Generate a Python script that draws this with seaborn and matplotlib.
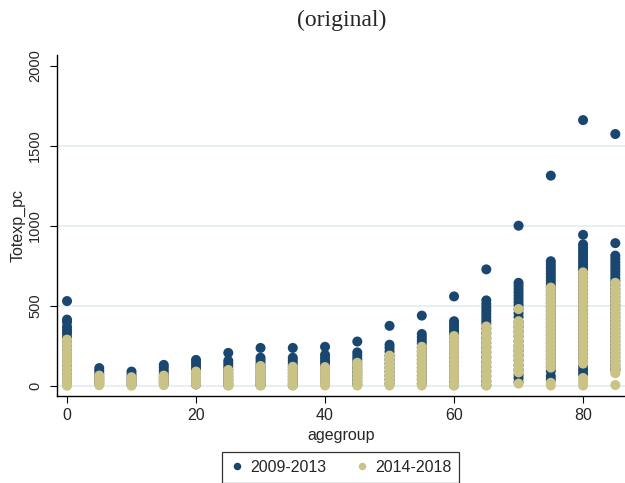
import numpy as np
import pandas as pd
import matplotlib
matplotlib.use('Agg')
import matplotlib.pyplot as plt
import seaborn as sns

# age groups on the x axis
agegroups = [0, 5, 10, 15, 20, 25, 30, 35, 40, 45, 50, 55, 60, 65, 70, 75, 80, 85]

# Totexp_pc values, one list per age group
totexp_2009_2013 = [
    [531, 415, 400, 370, 350, 330, 305, 280, 250, 220, 190, 160, 130, 100, 70, 40, 10],
    [112, 95, 75, 55, 35, 15],
    [90, 70, 50, 30, 10],
    [132, 115, 95, 75, 55, 35, 15],
    [163, 145, 125, 105, 85, 65, 45, 25, 10],
    [207, 158, 140, 120, 100, 80, 60, 40, 20, 5],
    [238, 177, 160, 140, 120, 100, 80, 60, 40, 20, 5],
    [238, 177, 160, 140, 120, 100, 80, 60, 40, 20, 5],
    [245, 195, 175, 155, 135, 115, 95, 75, 55, 35, 15],
    [278, 210, 190, 170, 150, 130, 110, 90, 70, 50, 30, 10],
    [376, 258, 238, 215, 190, 165, 140, 115, 90, 65, 40, 15],
    [440, 325, 305, 285, 265, 240, 215, 190, 165, 140, 115, 90, 65, 40, 15],
    [560, 405, 385, 365, 345, 325, 300, 270, 240, 210, 180, 150, 120, 90, 60, 30, 5],
    [729, 535, 512, 490, 470, 450, 430, 410, 390, 360, 330, 300, 270, 240, 210, 180,
     150, 120, 90, 60, 30, 5],
    [1002, 645, 625, 605, 585, 565, 545, 525, 505, 480, 455, 430, 400, 370, 340, 310,
     280, 250, 220, 190, 160, 130, 100, 70, 50, 25],
    [1315, 780, 760, 740, 720, 700, 680, 660, 640, 620, 595, 570, 545, 520, 495, 470,
     445, 420, 395, 370, 345, 320, 295, 270, 245, 220, 195, 170, 145, 120, 95, 62, 40],
    [1662, 945, 885, 865, 845, 825, 805, 785, 765, 745, 725, 700, 675, 650, 625, 600,
     575, 550, 525, 500, 475, 450, 425, 400, 375, 350, 325, 300, 275, 250, 225, 200,
     175, 150, 125, 100, 75],
    [1575, 893, 815, 795, 775, 755, 735, 715, 695, 675, 655, 630, 605, 580, 555, 530,
     505, 480, 455, 430, 405, 380, 355, 330, 305, 280, 255, 230, 205, 180, 155, 130,
     110, 100],
]

totexp_2014_2018 = [
    [290, 265, 240, 215, 190, 165, 140, 115, 90, 65, 40, 15, 2],
    [65, 45, 25, 5],
    [55, 35, 15, 2],
    [65, 45, 25, 5],
    [90, 70, 50, 30, 10],
    [100, 80, 60, 40, 20, 3],
    [125, 105, 85, 60, 40, 20, 3],
    [120, 100, 80, 60, 40, 20, 3],
    [118, 98, 78, 58, 38, 18, 3],
    [145, 125, 100, 75, 50, 25, 3],
    [190, 170, 145, 120, 95, 70, 45, 20, 3],
    [245, 220, 195, 170, 145, 120, 95, 70, 45, 20, 3],
    [312, 290, 265, 240, 215, 190, 165, 140, 115, 90, 65, 40, 15, 3],
    [372, 345, 320, 295, 270, 245, 220, 195, 170, 145, 120, 95, 70, 45, 20, 3],
    [481, 405, 380, 355, 330, 305, 280, 255, 230, 205, 180, 155, 130, 105, 85, 15],
    [615, 590, 565, 540, 515, 490, 465, 440, 415, 390, 365, 340, 315, 290, 265, 240,
     215, 190, 165, 140, 115, 20, 3],
    [710, 685, 660, 635, 610, 585, 560, 535, 510, 485, 460, 435, 410, 385, 360, 335,
     310, 285, 260, 235, 210, 185, 160, 140, 50, 25, 3],
    [645, 620, 595, 570, 545, 520, 495, 470, 445, 420, 395, 370, 345, 320, 295, 270,
     245, 220, 195, 170, 145, 120, 100, 80, 6],
]

periods = ['2009-2013', '2014-2018']
period_colors = {'2009-2013': '#1a476f', '2014-2018': '#cbc386'}

x_ticks = [0, 20, 40, 60, 80]
y_ticks = [0, 500, 1000, 1500, 2000]


rows = []
for period, series in zip(periods, [totexp_2009_2013, totexp_2014_2018]):
    for age, vals in zip(agegroups, series):
        for v in vals:
            rows.append({'agegroup': age, 'Totexp_pc': v, 'period': period})
plot_df = pd.DataFrame(rows)

sns.set_theme(style='white')
plt.rcParams['font.family'] = ['Liberation Sans', 'DejaVu Sans']

fig = plt.figure(figsize=(6.25, 4.83), dpi=100)
ax = fig.add_axes([56.7 / 625, 1 - 396 / 483, 1 - 56.7 / 625, (396 - 55) / 483])

# light horizontal grid like stata
for yt in y_ticks[:-1]:
    ax.axhline(yt, color='#e6eef1', lw=1.3, zorder=0)

sns.scatterplot(data=plot_df, x='agegroup', y='Totexp_pc', hue='period',
                hue_order=periods, palette=period_colors, s=52, linewidth=0,
                alpha=1, ax=ax, zorder=3)

ax.set_xlim(-1.6, 86.5)
ax.set_ylim(-62.5, 2069)
ax.set_xticks(x_ticks)
ax.set_yticks(y_ticks)
ax.tick_params(axis='both', direction='out', length=5, width=0.8, color='black',
               bottom=True, left=True)
ax.tick_params(axis='x', labelsize=11.5, pad=4)
ax.tick_params(axis='y', labelsize=10.5, pad=5.5, labelrotation=90)
for lab in ax.get_yticklabels():
    lab.set_va('center')

for side in ['top', 'right']:
    ax.spines[side].set_visible(False)
for side in ['left', 'bottom']:
    ax.spines[side].set_color('black')
    ax.spines[side].set_linewidth(1.0)

ax.set_xlabel('agegroup', fontsize=11.5, labelpad=3)
ax.set_ylabel('Totexp_pc', fontsize=11.5)
ax.yaxis.set_label_coords(-0.055, 0.5)

ax.get_legend().remove()
handles, labels = ax.get_legend_handles_labels()
leg = fig.legend(handles, labels, loc='upper left', bbox_to_anchor=(222 / 625, 1 - 452 / 483),
                 bbox_transform=fig.transFigure, ncol=2, fontsize=11.5, frameon=True,
                 fancybox=False, edgecolor='black', markerscale=0.75, handletextpad=0.35,
                 columnspacing=1.8, borderpad=0.5, handlelength=0.9, borderaxespad=0)
leg.get_frame().set_linewidth(0.9)

fig.text(0.546, 1 - 20 / 483, '(original)', ha='center', va='center', fontsize=17,
         family=['Liberation Serif', 'DejaVu Serif'])

plt.savefig('out.png', dpi=100)
